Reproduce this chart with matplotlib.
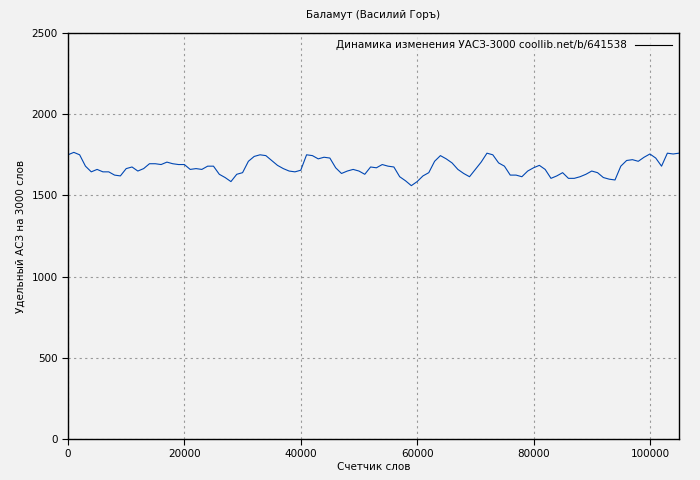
import matplotlib
matplotlib.use("Agg")
import matplotlib.pyplot as plt
import numpy as np

# счетчик слов (шаг 1000) и удельный АСЗ
words = np.arange(0, 106000, 1000)
asz = [1750, 1765, 1750, 1680, 1645, 1660, 1645, 1645, 1625, 1620,
       1665, 1675, 1650, 1665, 1695, 1695, 1690, 1705, 1695, 1690,
       1690, 1660, 1665, 1660, 1680, 1680, 1630, 1610, 1585, 1630,
       1640, 1710, 1740, 1750, 1745, 1715, 1685, 1665, 1650, 1645,
       1655, 1750, 1745, 1725, 1735, 1730, 1670, 1635, 1650, 1660,
       1650, 1630, 1675, 1670, 1690, 1680, 1675, 1615, 1590, 1560,
       1585, 1620, 1640, 1710, 1745, 1725, 1700, 1660, 1635, 1615,
       1660, 1705, 1760, 1750, 1700, 1680, 1625, 1625, 1615, 1650,
       1670, 1685, 1660, 1605, 1620, 1640, 1605, 1605, 1615, 1630,
       1650, 1640, 1610, 1600, 1595, 1680, 1715, 1720, 1710, 1735,
       1755, 1730, 1680, 1760, 1755, 1760]

plt.rcParams["font.size"] = 7.5
fig = plt.figure(figsize=(7, 4.8), dpi=100, facecolor="#f2f2f2")
ax = fig.add_axes([68/700, 41/480, 611/700, 406/480], facecolor="#f2f2f2")

ax.plot(words, asz, color="#0047b3", lw=0.8,
        label="Динамика изменения УАСЗ-3000 coollib.net/b/641538")
ax.set_xlim(0, 105000)
ax.set_ylim(0, 2500)
ax.set_xticks(range(0, 100001, 20000))
ax.set_yticks(range(0, 2501, 500))
ax.grid(True, color="#999999", linestyle=(0, (2, 3)), lw=0.8)
ax.tick_params(direction="out", length=4)
for s in ax.spines.values():
    s.set_linewidth(1)

ax.set_title("Баламут (Василий Горъ)", fontsize=7.5, pad=11)
ax.set_xlabel("Счетчик слов", labelpad=2)
ax.set_ylabel("Удельный АСЗ на 3000 слов")
leg = ax.legend(loc="upper right", frameon=True, handlelength=3.5,
                borderaxespad=0.3, markerfirst=False)
leg.get_frame().set_facecolor("#f2f2f2")
leg.get_frame().set_edgecolor("none")
leg.get_lines()[0].set_color("black")

fig.savefig("out.png", dpi=100, facecolor=fig.get_facecolor())
